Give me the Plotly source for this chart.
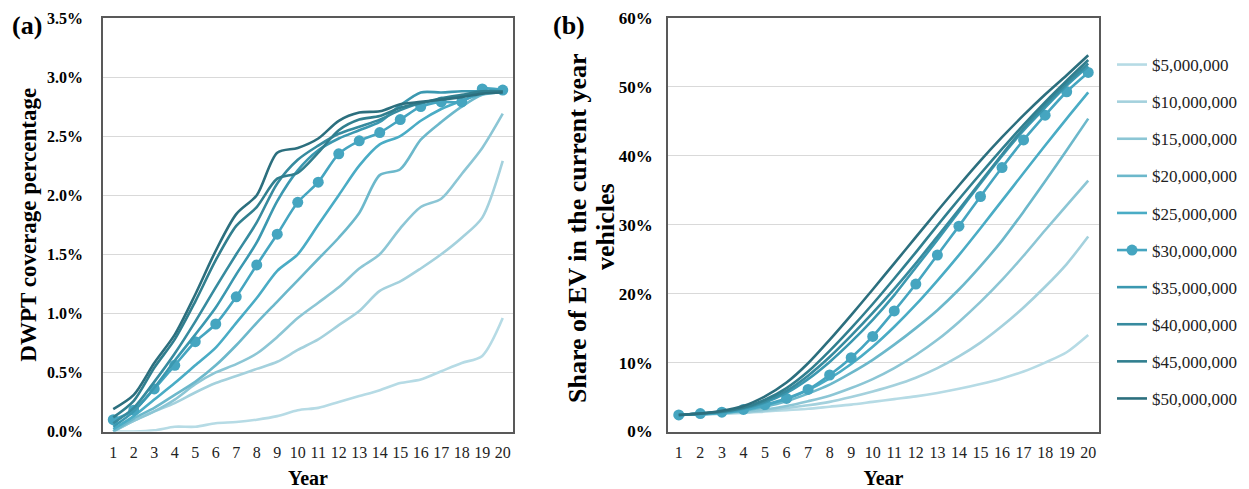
import plotly.graph_objects as go

years = list(range(1, 21))
budgets = ["$5,000,000", "$10,000,000", "$15,000,000", "$20,000,000", "$25,000,000",
           "$30,000,000", "$35,000,000", "$40,000,000", "$45,000,000", "$50,000,000"]
colors = ["#b6dbe5", "#a4d1dd", "#8cc6d5", "#6cb8cb", "#4aacc5",
          "#45a5c0", "#3b98b0", "#378b9f", "#317f8f", "#2c6f7e"]

# Panel (a): DWPT coverage percentage (%)
cov_5M = [0.0, 0.0, 0.01, 0.04, 0.04, 0.07, 0.08, 0.10, 0.13, 0.18, 0.20, 0.25, 0.30, 0.35, 0.41, 0.44, 0.51, 0.58, 0.64, 0.96]
cov_10M = [0.0, 0.09, 0.17, 0.24, 0.33, 0.41, 0.47, 0.53, 0.59, 0.69, 0.78, 0.90, 1.02, 1.19, 1.27, 1.38, 1.50, 1.64, 1.81, 2.29]
cov_15M = [0.0, 0.09, 0.17, 0.27, 0.40, 0.50, 0.57, 0.66, 0.80, 0.96, 1.09, 1.22, 1.38, 1.50, 1.72, 1.90, 1.97, 2.18, 2.40, 2.69]
cov_20M = [0.0, 0.11, 0.20, 0.31, 0.42, 0.56, 0.73, 0.92, 1.10, 1.28, 1.46, 1.64, 1.85, 2.17, 2.22, 2.47, 2.62, 2.75, 2.85, 2.87]
cov_25M = [0.02, 0.13, 0.27, 0.41, 0.56, 0.71, 0.92, 1.13, 1.36, 1.50, 1.75, 2.00, 2.25, 2.43, 2.50, 2.63, 2.73, 2.80, 2.86, 2.88]
cov_30M = [0.10, 0.18, 0.36, 0.56, 0.76, 0.91, 1.14, 1.41, 1.67, 1.94, 2.11, 2.35, 2.46, 2.53, 2.64, 2.75, 2.79, 2.79, 2.90, 2.89]
cov_35M = [0.04, 0.17, 0.37, 0.60, 0.82, 1.05, 1.33, 1.60, 1.95, 2.21, 2.38, 2.48, 2.55, 2.62, 2.76, 2.87, 2.87, 2.88, 2.88, 2.88]
cov_40M = [0.07, 0.20, 0.42, 0.66, 0.93, 1.22, 1.50, 1.77, 2.10, 2.30, 2.42, 2.52, 2.58, 2.64, 2.72, 2.78, 2.81, 2.84, 2.87, 2.88]
cov_45M = [0.12, 0.26, 0.54, 0.78, 1.10, 1.45, 1.74, 1.90, 2.14, 2.19, 2.36, 2.55, 2.64, 2.67, 2.74, 2.78, 2.82, 2.85, 2.88, 2.88]
cov_50M = [0.19, 0.31, 0.58, 0.82, 1.16, 1.53, 1.84, 2.00, 2.36, 2.40, 2.48, 2.63, 2.70, 2.71, 2.77, 2.79, 2.81, 2.83, 2.86, 2.87]

# Panel (b): share of EV in current-year vehicles (%)
ev_5M = [2.4, 2.5, 2.6, 2.7, 2.9, 3.1, 3.3, 3.6, 3.9, 4.3, 4.7, 5.1, 5.6, 6.2, 6.9, 7.7, 8.7, 10.0, 11.5, 14.0]
ev_10M = [2.4, 2.5, 2.6, 2.8, 3.0, 3.4, 3.8, 4.3, 5.0, 5.8, 6.7, 7.8, 9.2, 10.9, 12.9, 15.3, 18.0, 21.0, 24.3, 28.3]
ev_15M = [2.4, 2.5, 2.7, 2.9, 3.2, 3.7, 4.4, 5.2, 6.3, 7.6, 9.2, 11.1, 13.3, 15.9, 18.8, 22.0, 25.5, 29.2, 32.8, 36.4]
ev_20M = [2.4, 2.5, 2.7, 3.0, 3.6, 4.4, 5.5, 6.8, 8.5, 10.4, 12.6, 15.0, 17.6, 20.6, 24.0, 27.7, 31.9, 36.3, 40.8, 45.4]
ev_25M = [2.4, 2.5, 2.7, 3.1, 3.8, 4.7, 6.0, 7.7, 9.8, 12.3, 15.2, 18.4, 21.9, 25.6, 29.5, 33.5, 37.5, 41.5, 45.4, 49.2]
ev_30M = [2.4, 2.6, 2.8, 3.2, 3.9, 4.8, 6.1, 8.2, 10.7, 13.8, 17.5, 21.4, 25.6, 29.8, 34.1, 38.3, 42.3, 45.9, 49.3, 52.1]
ev_35M = [2.4, 2.6, 2.8, 3.3, 4.2, 5.6, 7.6, 10.1, 13.0, 16.2, 19.8, 23.8, 27.8, 31.9, 36.0, 40.0, 43.7, 47.0, 50.2, 53.0]
ev_40M = [2.4, 2.6, 2.9, 3.4, 4.4, 5.9, 8.1, 10.8, 13.9, 17.2, 20.7, 24.4, 28.3, 32.2, 36.2, 40.2, 44.0, 47.4, 50.5, 53.4]
ev_45M = [2.4, 2.6, 2.9, 3.5, 4.6, 6.3, 8.7, 11.7, 15.0, 18.5, 22.2, 26.0, 29.9, 33.7, 37.4, 41.0, 44.5, 47.8, 50.9, 53.9]
ev_50M = [2.4, 2.6, 3.0, 3.7, 5.1, 7.1, 9.9, 13.3, 16.9, 20.6, 24.4, 28.2, 32.0, 35.7, 39.3, 42.7, 45.9, 48.9, 51.7, 54.6]

coverage = [cov_5M, cov_10M, cov_15M, cov_20M, cov_25M, cov_30M, cov_35M, cov_40M, cov_45M, cov_50M]
ev_share = [ev_5M, ev_10M, ev_15M, ev_20M, ev_25M, ev_30M, ev_35M, ev_40M, ev_45M, ev_50M]

W, H = 1249, 489
SERIF = "Liberation Serif, Times New Roman, serif"

fig = go.Figure()
for i, name in enumerate(budgets):
    has_marker = name == "$30,000,000"
    mode = "lines+markers" if has_marker else "lines"
    common = dict(
        x=years, mode=mode, name=name, legendgroup=name,
        line=dict(color=colors[i], width=2.6, shape="spline", smoothing=0.8),
        marker=dict(size=11, color=colors[i]),
    )
    fig.add_trace(go.Scatter(y=[v / 100 for v in coverage[i]], xaxis="x", yaxis="y",
                             showlegend=False, **common))
    fig.add_trace(go.Scatter(y=[v / 100 for v in ev_share[i]], xaxis="x2", yaxis="y2",
                             showlegend=True, **common))

yd = [1 - 431.5 / H, 1 - 18 / H]
axis_line = dict(showline=True, linecolor="#595959", linewidth=1.6, mirror=True)

fig.update_layout(
    width=W, height=H,
    margin=dict(l=0, r=0, t=0, b=0),
    paper_bgcolor="white", plot_bgcolor="white",
    font=dict(family=SERIF, color="#000000"),
    xaxis=dict(domain=[103 / W, 513 / W], range=[0.5, 20.5], tickmode="array",
               tickvals=years, ticktext=[str(y) for y in years], ticks="",
               tickfont=dict(size=16, color="#222"), showgrid=False, zeroline=False,
               ticklabelstandoff=5, automargin=False,
               title=dict(text="<b>Year</b>", font=dict(size=20), standoff=11), **axis_line),
    yaxis=dict(domain=yd, range=[0, 0.035], tickmode="array",
               tickvals=[0, 0.005, 0.01, 0.015, 0.02, 0.025, 0.03, 0.035],
               ticktext=["<b>0.0%</b>", "<b>0.5%</b>", "<b>1.0%</b>", "<b>1.5%</b>",
                         "<b>2.0%</b>", "<b>2.5%</b>", "<b>3.0%</b>", "<b>3.5%</b>"],
               tickfont=dict(size=16), ticks="", showgrid=True, gridcolor="#d9d9d9",
               gridwidth=1.3, zeroline=False, ticklabelstandoff=15, automargin=False,
               title=dict(text="<b>DWPT coverage percentage</b>", font=dict(size=23), standoff=4),
               **axis_line),
    xaxis2=dict(domain=[668 / W, 1099 / W], range=[0.5, 20.5], tickmode="array",
                tickvals=years, ticktext=[str(y) for y in years], ticks="",
                tickfont=dict(size=16, color="#222"), showgrid=False, zeroline=False,
                ticklabelstandoff=5, automargin=False, anchor="y2",
                title=dict(text="<b>Year</b>", font=dict(size=20), standoff=11), **axis_line),
    yaxis2=dict(domain=yd, range=[0, 0.6], tickmode="array",
                tickvals=[0, 0.1, 0.2, 0.3, 0.4, 0.5, 0.6],
                ticktext=["<b>0%</b>", "<b>10%</b>", "<b>20%</b>", "<b>30%</b>",
                          "<b>40%</b>", "<b>50%</b>", "<b>60%</b>"],
                tickfont=dict(size=17), ticks="", showgrid=True, gridcolor="#d9d9d9",
                gridwidth=1.3, zeroline=False, ticklabelstandoff=10, automargin=False,
                anchor="x2", **axis_line),
    legend=dict(x=1112 / W, y=1 - 47 / H, xanchor="left", yanchor="top",
                font=dict(size=17, color="#222"), tracegroupgap=12,
                itemwidth=30, bgcolor="rgba(0,0,0,0)"),
    annotations=[
        dict(text="<b>(a)</b>", x=10 / W, y=1 - 26 / H, xref="paper", yref="paper",
             xanchor="left", yanchor="middle", showarrow=False, font=dict(size=26)),
        dict(text="<b>(b)</b>", x=551 / W, y=1 - 26 / H, xref="paper", yref="paper",
             xanchor="left", yanchor="middle", showarrow=False, font=dict(size=26)),
        # y-axis title of panel (b), two lines
        dict(text="<b>Share of EV in the current year</b>", x=577 / W, y=1 - 228 / H,
             xref="paper", yref="paper", xanchor="center", yanchor="middle",
             textangle=-90, showarrow=False, font=dict(size=26)),
        dict(text="<b>vehicles</b>", x=605 / W, y=1 - 227 / H,
             xref="paper", yref="paper", xanchor="center", yanchor="middle",
             textangle=-90, showarrow=False, font=dict(size=26)),
    ],
)

fig.write_html("out.html", config={"displayModeBar": False},
               post_script="document.body.style.margin='0';")
